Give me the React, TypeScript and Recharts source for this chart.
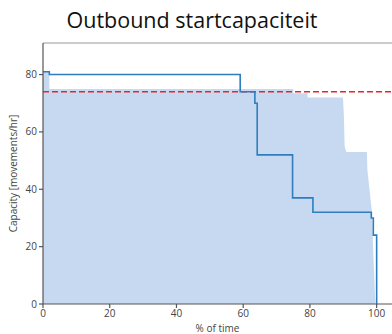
import React from 'react';
import { ComposedChart, Area, Line, XAxis, YAxis, ReferenceLine, Label } from 'recharts';

const title = 'Outbound startcapaciteit';
const xLabel = '% of time';
const yLabel = 'Capacity [movements/hr]';

// step line: capacity (stepAfter) vs % of time
const lineX = [0, 1.9, 59.1, 63.5, 64.2, 74.8, 80.9, 98.4, 99.0, 100, 100];
const lineY = [81, 80, 74, 70, 52, 37, 32, 30, 24, 24, 0];

// filled envelope (corner points)
const fillX = [0, 1.9, 1.9, 75, 75, 79.3, 79.3, 89.9, 90.2, 90.4, 90.9, 97.1, 97.2, 98.5, 99.6];
const fillY = [81, 81, 75, 75, 73.5, 73.5, 72, 72, 65, 55, 53, 53, 47, 33, 0];

const targetCapacity = 74;
const xTicks = [0, 20, 40, 60, 80, 100];
const yTicks = [0, 20, 40, 60, 80];

const lineData = lineX.map((x, i) => ({ x, y: lineY[i] }));
const fillData = fillX.map((x, i) => ({ x, f: fillY[i] }));

const FONT = '"Open Sans", "Noto Sans", sans-serif';

export default function App() {
  return (
    <div style={{ position: 'absolute', left: 0, top: 0, width: 392, height: 334, background: '#fff' }}>
      <div
        style={{
          position: 'absolute',
          left: 0,
          width: 384,
          top: 5,
          textAlign: 'center',
          fontFamily: FONT,
          fontSize: 21.5,
          color: '#111',
          lineHeight: '29px',
        }}
      >
        {title}
      </div>
      <ComposedChart
        width={392}
        height={334}
        margin={{ top: 43, right: 0, left: 0, bottom: 0 }}
        style={{ position: 'absolute', left: 0, top: 0 }}
      >
        <XAxis
          dataKey="x"
          type="number"
          domain={[0, 104.6]}
          ticks={xTicks}
          allowDataOverflow
          height={30}
          stroke="#555"
          strokeWidth={1.2}
          tickSize={4}
          tick={{ fill: '#444', fontSize: 10, fontFamily: FONT }}
          tickLine={{ stroke: '#555' }}
        >
          <Label value={xLabel} position="insideBottom" offset={2} style={{ fill: '#444', fontSize: 10, fontFamily: FONT }} />
        </XAxis>
        <YAxis
          type="number"
          domain={[0, 91]}
          ticks={yTicks}
          allowDataOverflow
          width={43}
          stroke="#555"
          strokeWidth={1.2}
          tickSize={4}
          tick={{ fill: '#444', fontSize: 10, fontFamily: FONT }}
          tickLine={{ stroke: '#555' }}
        >
          <Label
            value={yLabel}
            angle={-90}
            position="insideLeft"
            offset={13}
            style={{ fill: '#444', fontSize: 10, fontFamily: FONT, textAnchor: 'middle' }}
          />
        </YAxis>
        <Area
          data={fillData}
          dataKey="f"
          type="linear"
          fill="#c6d9f0"
          fillOpacity={1}
          stroke="none"
          baseValue={0}
          isAnimationActive={false}
        />
        <ReferenceLine y={91} stroke="#999" strokeWidth={1.2} ifOverflow="extendDomain" />
        <ReferenceLine y={targetCapacity} stroke="#e8262a" strokeWidth={1.5} strokeDasharray="6 3" />
        <Line
          data={lineData}
          dataKey="y"
          type="stepAfter"
          stroke="#2e7ebf"
          strokeWidth={1.6}
          dot={false}
          isAnimationActive={false}
        />
      </ComposedChart>
    </div>
  );
}
